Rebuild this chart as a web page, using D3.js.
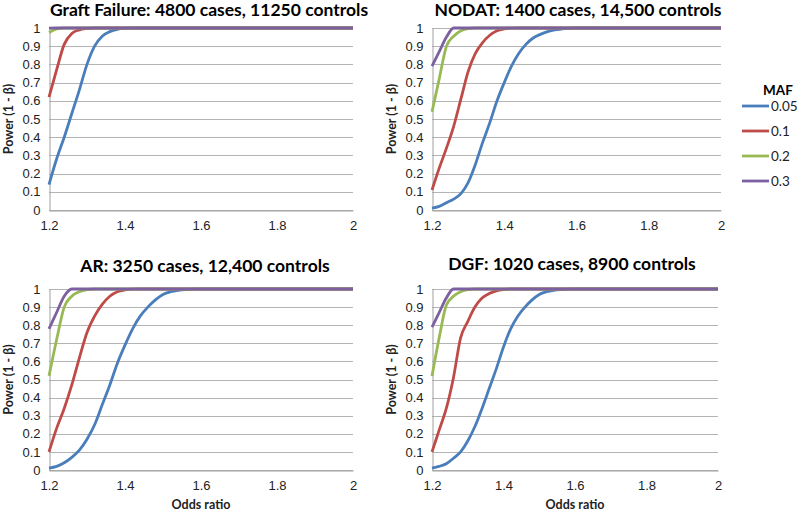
<!DOCTYPE html>
<html>
<head>
<meta charset="utf-8">
<script src="https://cdn.jsdelivr.net/npm/d3@7"></script>
<style>
  body { margin: 0; background: #fff; }
  svg { display: block; font-family: Lato, "Open Sans", sans-serif; }
  .title { font-weight: bold; font-size: 17.5px; fill: #000; }
  .axisLabel { font-weight: bold; font-size: 12.5px; fill: #222; }
  .tick text { font-size: 13px; fill: #222; }
  .grid line { stroke: #b4b4b4; stroke-width: 1; }
  .curve { fill: none; stroke-width: 2.8; stroke-linejoin: round; }
</style>
</head>
<body>
<script>
/* odds ratio steps shared by every series */
var oddsRatio = [1.20, 1.22, 1.24, 1.26, 1.28, 1.30, 1.32, 1.34, 1.36, 1.38, 1.40,
                 1.42, 1.44, 1.46, 1.48, 1.50, 1.52, 1.54, 1.56, 1.58, 1.60,
                 1.70, 1.80, 1.90, 2.00]

var mafLevels = ["0.05", "0.1", "0.2", "0.3"]
var mafColors = ["#4a7ebb", "#be4b48", "#98b954", "#7d60a0"]

var xTicks = [1.2, 1.4, 1.6, 1.8, 2]
var yTicks = [0, 0.1, 0.2, 0.3, 0.4, 0.5, 0.6, 0.7, 0.8, 0.9, 1]

/* Graft Failure */
var gfMaf05 = [0.14, 0.28, 0.40, 0.53, 0.66, 0.80, 0.90, 0.955, 0.98, 0.993, 0.998,
               1, 1, 1, 1, 1, 1, 1, 1, 1, 1, 1, 1, 1, 1]
var gfMaf10 = [0.62, 0.77, 0.91, 0.97, 0.99, 0.997, 1, 1, 1, 1, 1,
               1, 1, 1, 1, 1, 1, 1, 1, 1, 1, 1, 1, 1, 1]
var gfMaf20 = [0.975, 0.995, 1, 1, 1, 1, 1, 1, 1, 1, 1,
               1, 1, 1, 1, 1, 1, 1, 1, 1, 1, 1, 1, 1, 1]
var gfMaf30 = [0.999, 1, 1, 1, 1, 1, 1, 1, 1, 1, 1,
               1, 1, 1, 1, 1, 1, 1, 1, 1, 1, 1, 1, 1, 1]

/* NODAT */
var ndMaf05 = [0.01, 0.02, 0.04, 0.06, 0.09, 0.15, 0.25, 0.37, 0.48, 0.60, 0.70,
               0.79, 0.86, 0.91, 0.945, 0.965, 0.98, 0.99, 0.995, 0.998, 1, 1, 1, 1, 1]
var ndMaf10 = [0.11, 0.23, 0.34, 0.46, 0.61, 0.76, 0.86, 0.92, 0.96, 0.985, 0.995,
               0.999, 1, 1, 1, 1, 1, 1, 1, 1, 1, 1, 1, 1, 1]
var ndMaf20 = [0.54, 0.72, 0.90, 0.955, 0.985, 0.997, 1, 1, 1, 1, 1,
               1, 1, 1, 1, 1, 1, 1, 1, 1, 1, 1, 1, 1, 1]
var ndMaf30 = [0.79, 0.87, 0.95, 1, 1, 1, 1, 1, 1, 1, 1,
               1, 1, 1, 1, 1, 1, 1, 1, 1, 1, 1, 1, 1, 1]

/* AR */
var arMaf05 = [0.01, 0.02, 0.04, 0.07, 0.11, 0.17, 0.25, 0.36, 0.47, 0.59, 0.69,
               0.78, 0.85, 0.90, 0.94, 0.97, 0.985, 0.993, 0.997, 0.999, 1, 1, 1, 1, 1]
var arMaf10 = [0.10, 0.23, 0.34, 0.47, 0.62, 0.76, 0.85, 0.915, 0.96, 0.985, 0.995,
               0.999, 1, 1, 1, 1, 1, 1, 1, 1, 1, 1, 1, 1, 1]
var arMaf20 = [0.52, 0.72, 0.90, 0.96, 0.985, 0.996, 1, 1, 1, 1, 1,
               1, 1, 1, 1, 1, 1, 1, 1, 1, 1, 1, 1, 1, 1]
var arMaf30 = [0.78, 0.87, 0.96, 1, 1, 1, 1, 1, 1, 1, 1,
               1, 1, 1, 1, 1, 1, 1, 1, 1, 1, 1, 1, 1, 1]

/* DGF */
var dgMaf05 = [0.01, 0.02, 0.035, 0.065, 0.10, 0.16, 0.24, 0.34, 0.45, 0.56, 0.68,
               0.78, 0.85, 0.90, 0.94, 0.97, 0.985, 0.993, 0.997, 0.999, 1, 1, 1, 1, 1]
var dgMaf10 = [0.10, 0.22, 0.34, 0.51, 0.73, 0.82, 0.90, 0.95, 0.975, 0.99, 0.997,
               1, 1, 1, 1, 1, 1, 1, 1, 1, 1, 1, 1, 1, 1]
var dgMaf20 = [0.52, 0.73, 0.91, 0.96, 0.985, 0.997, 1, 1, 1, 1, 1,
               1, 1, 1, 1, 1, 1, 1, 1, 1, 1, 1, 1, 1, 1]
var dgMaf30 = [0.79, 0.87, 0.95, 1, 1, 1, 1, 1, 1, 1, 1,
               1, 1, 1, 1, 1, 1, 1, 1, 1, 1, 1, 1, 1, 1]

var panelTitles = ["Graft Failure: 4800 cases, 11250 controls",
                   "NODAT: 1400 cases, 14,500 controls",
                   "AR: 3250 cases, 12,400 controls",
                   "DGF: 1020 cases, 8900 controls"]

var panelSeries = [[gfMaf05, gfMaf10, gfMaf20, gfMaf30],
                   [ndMaf05, ndMaf10, ndMaf20, ndMaf30],
                   [arMaf05, arMaf10, arMaf20, arMaf30],
                   [dgMaf05, dgMaf10, dgMaf20, dgMaf30]]

/* layout of each plot area, in page pixels */
var boxes = [
  {left: 49,  right: 353, top: 28,  bottom: 210, titleX: 209, titleY: 16,  yLabX: 13,  xLab: false},
  {left: 432, right: 721, top: 28,  bottom: 210, titleX: 578, titleY: 16,  yLabX: 396, xLab: false},
  {left: 49,  right: 353, top: 289, bottom: 470, titleX: 205, titleY: 272, yLabX: 13,  xLab: true},
  {left: 432, right: 718, top: 289, bottom: 470, titleX: 572, titleY: 270, yLabX: 396, xLab: true}
]

var svg = d3.select("body")
  .append("svg")
  .attr("width", 800)
  .attr("height", 513)

boxes.forEach(function(b, p) {
  var x = d3.scaleLinear().domain([1.2, 2]).range([b.left, b.right])
  var y = d3.scaleLinear().domain([0, 1]).range([b.bottom, b.top])

  var g = svg.append("g").attr("class", "panel")

  /* horizontal gridlines */
  g.append("g")
    .attr("class", "grid")
    .selectAll("line")
    .data(yTicks)
    .enter()
    .append("line")
    .attr("x1", b.left)
    .attr("x2", b.right)
    .attr("y1", function(d) { return Math.round(y(d)) + 0.5 })
    .attr("y2", function(d) { return Math.round(y(d)) + 0.5 })

  /* left axis */
  var yAxis = d3.axisLeft(y).tickValues(yTicks).tickSize(0).tickPadding(9)
    .tickFormat(function(d) { return d3.format("")(+d.toFixed(1)) })
  g.append("g")
    .attr("transform", "translate(" + (b.left + 0.5) + ",0)")
    .call(yAxis)
    .call(function(a) { a.select(".domain").attr("stroke", "#a0a0a0") })

  /* bottom axis */
  var xAxis = d3.axisBottom(x).tickValues(xTicks).tickSize(0).tickPadding(10)
    .tickFormat(function(d) { return d3.format("")(+d.toFixed(1)) })
  g.append("g")
    .attr("transform", "translate(0," + (b.bottom + 0.5) + ")")
    .call(xAxis)
    .call(function(a) { a.select(".domain").attr("stroke", "#a0a0a0") })

  /* curves, drawn low MAF first so 0.3 sits on top */
  var line = d3.line()
    .x(function(d, i) { return x(oddsRatio[i]) })
    .y(function(d) { return y(d) })
    .curve(d3.curveMonotoneX)

  g.append("g")
    .selectAll("path")
    .data(panelSeries[p])
    .enter()
    .append("path")
    .attr("class", "curve")
    .attr("stroke", function(d, i) { return mafColors[i] })
    .attr("d", line)

  /* titles */
  g.append("text")
    .attr("class", "title")
    .attr("x", b.titleX)
    .attr("y", b.titleY)
    .attr("text-anchor", "middle")
    .text(panelTitles[p])

  g.append("text")
    .attr("class", "axisLabel")
    .attr("text-anchor", "middle")
    .attr("transform", "translate(" + b.yLabX + "," + ((b.top + b.bottom) / 2) + ") rotate(-90)")
    .text("Power (1 - β)")

  if (b.xLab) {
    g.append("text")
      .attr("class", "axisLabel")
      .attr("text-anchor", "middle")
      .attr("x", (b.left + b.right) / 2)
      .attr("y", 509)
      .text("Odds ratio")
  }
})

/* legend */
var legend = svg.append("g").attr("id", "legend")

legend.append("text")
  .attr("x", 778)
  .attr("y", 95)
  .attr("text-anchor", "middle")
  .style("font-weight", "bold")
  .style("font-size", "13.5px")
  .text("MAF")

var items = legend.selectAll("g.item")
  .data(mafLevels)
  .enter()
  .append("g")
  .attr("class", "item")
  .attr("transform", function(d, i) { return "translate(742," + (106 + i * 25) + ")" })

items.append("line")
  .attr("x1", 0)
  .attr("x2", 27)
  .attr("stroke", function(d, i) { return mafColors[i] })
  .attr("stroke-width", 2.8)

items.append("text")
  .attr("x", 29)
  .attr("dy", "0.35em")
  .style("font-size", "13.5px")
  .style("fill", "#222")
  .text(function(d) { return d })
</script>
</body>
</html>
